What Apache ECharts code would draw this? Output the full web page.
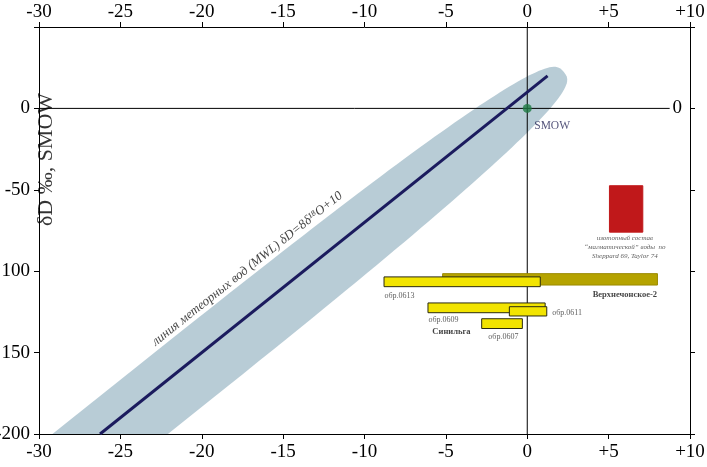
<!DOCTYPE html>
<html><head><meta charset="utf-8">
<script src="https://cdn.jsdelivr.net/npm/echarts@6/dist/echarts.min.js"></script>
<style>html,body{margin:0;padding:0;background:#fff}#c{width:707px;height:467px}</style>
</head><body><div id="c"></div><script>
// ---- data ----
const xTickLabels = ['-30','-25','-20','-15','-10','-5','0','+5','+10'];
const yTickLabels = ['-200','150','100','-50','0'];
const mwlLine = [[-26.25,-200],[1.25,20]];
const envelopeCenter = [-24.85,-193.8];
const envelopeTip = [2.25,22.3];
const smow = [[0,0]];
const zeroH = [[-30,0],[8.75,0]];
const zeroV = [[0,-200],[0,50]];
const boxNames = ['Верхнечонское-2','обр.0613','обр.0609','обр.0611','обр.0607','magmatic'];
const boxX1 = [-5.2,-8.8,-6.1,-1.1,-2.8,5.05];
const boxX2 = [8.0,0.8,1.1,1.2,-0.3,7.1];
const boxY1 = [-101.5,-103.5,-119.5,-121.8,-129.2,-47.5];
const boxY2 = [-108.5,-109.5,-125.5,-127.5,-135.2,-76];
const annotText = ['обр.0613','Верхнечонское-2','обр.0609','обр.0611','Синильга','обр.0607','SMOW',
  'изотопный состав','“магматической” воды  по','Sheppard 69, Taylor 74',
  'линия метеорных вод (MWL) δD=8δ¹⁸O+10','δD ‰, SMOW'];
const annotX = [-8.77,7.98,-6.07,1.53,-5.83,-2.39,0.43,6.0,6.0,6.0,-17.2,-29.55];
const annotY = [-115,-114.5,-129.8,-125.5,-137.2,-140.3,-10.5,-80,-85.2,-90.5,-98.5,-31.4];

// ---- styles ----
const serif = '"Liberation Serif","DejaVu Serif",serif';
const boxFill = ['#b5a300','#f2e400','#f2e400','#f2e400','#f2e400','#c0181a'];
const boxStroke = ['#9a8a00','#2a2a10','#2a2a10','#2a2a10','#2a2a10','#c0181a'];
const ENV_B = 36, ENV_N = 3;
const annotStyle = [
 {pos:'right',fs:8,c:'#333'},
 {pos:'left',fs:8.5,c:'#111',fw:'bold'},
 {pos:'right',fs:8,c:'#333'},
 {pos:'right',fs:8,c:'#333'},
 {pos:'right',fs:8.5,c:'#111',fw:'bold'},
 {pos:'right',fs:8,c:'#333'},
 {pos:'right',fs:11.5,c:'#2a2a5a'},
 {pos:'inside',fs:7,c:'#333',fst:'italic'},
 {pos:'inside',fs:7,c:'#333',fst:'italic'},
 {pos:'inside',fs:7,c:'#333',fst:'italic'},
 {pos:'inside',fs:13,c:'#111',fst:'italic',rot:38.5},
 {pos:'inside',fs:22,c:'#000',rot:90}
];

const boxData = boxNames.map((n,i)=>({name:n,value:[boxX1[i],boxX2[i],boxY1[i],boxY2[i],i]}));
const annotData = annotText.map((t,i)=>{
  const s = annotStyle[i];
  return {name:t,value:[annotX[i],annotY[i]],label:{show:true,position:s.pos,distance:0,
    rotate:s.rot||0,fontSize:s.fs,color:s.c,fontWeight:s.fw||'normal',fontStyle:s.fst||'normal',
    fontFamily:serif,formatter:'{b}'}};
});

const axisCommon = {
  axisLine:{show:true,onZero:false,lineStyle:{color:'#000',width:1}},
  axisTick:{show:true,inside:false,length:5,lineStyle:{color:'#000'}},
  splitLine:{show:false}
};

const chart = echarts.init(document.getElementById('c'));
chart.setOption({
  animation:false,
  backgroundColor:'#fff',
  grid:{left:39,right:17,top:27,bottom:33,containLabel:false,outerBoundsMode:'none'},
  xAxis:[
    Object.assign({type:'value',position:'bottom',min:-30,max:10,interval:5,
      axisLabel:{fontFamily:serif,fontSize:19,color:'#000',margin:9,
        formatter:v=>xTickLabels[Math.round((v+30)/5)]}},axisCommon),
    Object.assign({type:'value',position:'top',min:-30,max:10,interval:5,
      axisLabel:{fontFamily:serif,fontSize:19,color:'#000',margin:5,
        formatter:v=>xTickLabels[Math.round((v+30)/5)]}},axisCommon)
  ],
  yAxis:[
    Object.assign({type:'value',position:'left',min:-200,max:50,interval:50,
      axisLabel:{fontFamily:serif,fontSize:19,color:'#000',margin:9,
        formatter:v=>v>0?'':yTickLabels[Math.round((v+200)/50)]}},axisCommon),
    Object.assign({type:'value',position:'right',min:-200,max:50,interval:50,
      axisLabel:{fontFamily:serif,fontSize:19,color:'#000',inside:true,margin:8,
        formatter:v=>v===0?'0':''}},axisCommon)
  ],
  series:[
    {type:'custom',z:1,silent:true,data:[envelopeCenter],
     renderItem:(params,api)=>{
       const c = api.coord(envelopeCenter), t = api.coord(envelopeTip);
       const dx=t[0]-c[0], dy=t[1]-c[1], a=Math.hypot(dx,dy);
       const ux=dx/a, uy=dy/a, px=-uy, py=ux;
       const pts=[];
       for(let i=0;i<240;i++){
         const th=i/240*2*Math.PI, cs=Math.cos(th), sn=Math.sin(th);
         const u=a*Math.sign(cs)*Math.pow(Math.abs(cs),2/ENV_N);
         const v=ENV_B*Math.sign(sn)*Math.pow(Math.abs(sn),2/ENV_N);
         pts.push([c[0]+u*ux+v*px,c[1]+u*uy+v*py]);
       }
       const r=params.coordSys;
       return {type:'polygon',shape:{points:pts},style:{fill:'#b8ccd6'},
         clipPath:{type:'rect',shape:{x:r.x,y:r.y,width:r.width,height:r.height}}};
     }},
    {type:'line',z:2,data:zeroH,symbol:'none',lineStyle:{color:'#000',width:1},silent:true},
    {type:'line',z:2,data:zeroV,symbol:'none',lineStyle:{color:'#000',width:1},silent:true},
    {type:'line',z:3,data:mwlLine,symbol:'none',lineStyle:{color:'#1b1b5e',width:3},silent:true},
    {type:'custom',z:4,silent:true,data:boxData,
     renderItem:(params,api)=>{
       const p1=api.coord([api.value(0),api.value(2)]);
       const p2=api.coord([api.value(1),api.value(3)]);
       const i=api.value(4);
       return {type:'rect',shape:{x:Math.min(p1[0],p2[0]),y:Math.min(p1[1],p2[1]),
         width:Math.abs(p2[0]-p1[0]),height:Math.abs(p2[1]-p1[1])},
         style:{fill:boxFill[i],stroke:boxStroke[i],lineWidth:1}};
     }},
    {type:'scatter',z:5,data:smow,symbolSize:9,itemStyle:{color:'#1e7a44'},silent:true},
    {type:'scatter',z:6,data:annotData,symbolSize:0,silent:true}
  ]
});
</script></body></html>
